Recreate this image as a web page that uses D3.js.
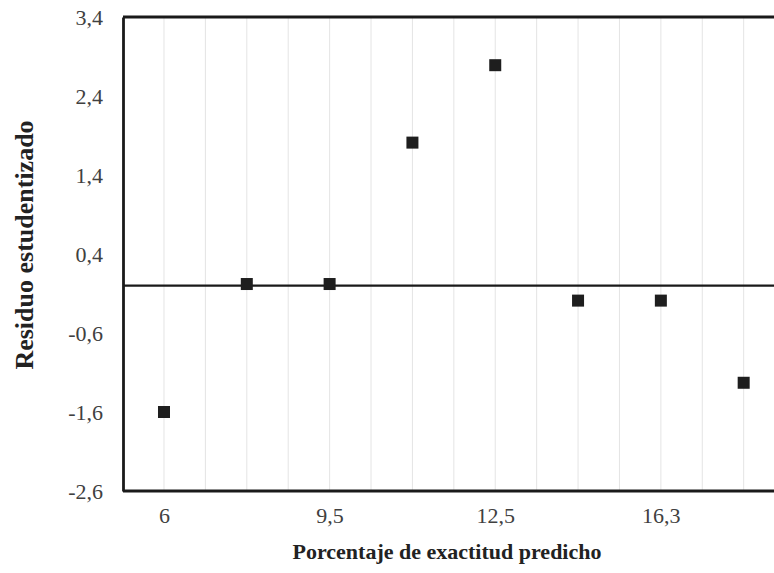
<!DOCTYPE html>
<html>
<head>
<meta charset="utf-8">
<script src="https://cdnjs.cloudflare.com/ajax/libs/d3/7.8.5/d3.min.js"></script>
<style>
  body { margin: 0; background: #fff; }
  .tick text { font-family: "Liberation Serif", "Times New Roman", serif; font-size: 22px; fill: #404040; }
</style>
</head>
<body>
<div id="chart"></div>
<script>
// data
var xIndex = [0, 1, 2, 3, 4, 5, 6, 7];
var xTickLabels = ["6", "", "9,5", "", "12,5", "", "16,3", ""];
var residuals = [-1.60, 0.02, 0.02, 1.81, 2.79, -0.19, -0.19, -1.23];
var yTicks = [-2.6, -1.6, -0.6, 0.4, 1.4, 2.4, 3.4];
var gridSteps = [0, 0.5, 1, 1.5, 2, 2.5, 3, 3.5, 4, 4.5, 5, 5.5, 6, 6.5, 7];

var serif = '"Liberation Serif", "Times New Roman", serif';

var width = 774;
var height = 573;
var margin = {top: 17, right: 3, bottom: 82, left: 123};
var innerW = width - margin.left - margin.right;
var innerH = height - margin.top - margin.bottom;

var svg = d3.select('#chart')
    .append('svg')
    .attr('width', width)
    .attr('height', height);

var g = svg.append('g')
    .attr('transform', 'translate(' + margin.left + ',' + margin.top + ')');

var x = d3.scaleLinear()
    .domain([-0.495, 7.33])
    .range([0, innerW]);

var y = d3.scaleLinear()
    .domain([-2.6, 3.4])
    .range([innerH, 0]);

// vertical gridlines
g.selectAll('.grid')
    .data(gridSteps)
    .enter()
    .append('line')
    .attr('class', 'grid')
    .attr('x1', function(d) { return x(d); })
    .attr('x2', function(d) { return x(d); })
    .attr('y1', 0)
    .attr('y2', innerH)
    .attr('stroke', '#e4e4e4')
    .attr('stroke-width', 1);

// zero line
g.append('line')
    .attr('x1', 0)
    .attr('x2', innerW + margin.right)
    .attr('y1', y(0))
    .attr('y2', y(0))
    .attr('stroke', '#1a1a1a')
    .attr('stroke-width', 2.2);

// top border
g.append('line')
    .attr('x1', 0)
    .attr('x2', innerW + margin.right)
    .attr('y1', 0)
    .attr('y2', 0)
    .attr('stroke', '#1a1a1a')
    .attr('stroke-width', 2.8);

// y axis
var yAxis = d3.axisLeft(y)
    .tickValues(yTicks)
    .tickSize(0)
    .tickPadding(20)
    .tickFormat(function(d) { return d3.format('.1f')(d).replace('.', ',').replace('−', '-'); });

var yG = g.append('g').call(yAxis);
yG.select('.domain').attr('stroke', '#1a1a1a').attr('stroke-width', 2.8);

// x axis
var xAxis = d3.axisBottom(x)
    .tickValues(xIndex)
    .tickSize(0)
    .tickPadding(16)
    .tickFormat(function(d, i) { return xTickLabels[i]; });

var xG = g.append('g')
    .attr('transform', 'translate(0,' + innerH + ')')
    .call(xAxis);
xG.select('.domain').attr('stroke', '#1a1a1a').attr('stroke-width', 2.8)
    .attr('d', 'M0,0H' + (innerW + margin.right));

// points
var sq = 12;
g.selectAll('.pt')
    .data(residuals)
    .enter()
    .append('rect')
    .attr('class', 'pt')
    .attr('x', function(d, i) { return x(xIndex[i]) - sq / 2; })
    .attr('y', function(d) { return y(d) - sq / 2; })
    .attr('width', sq)
    .attr('height', sq)
    .attr('fill', '#1e1e1e');

// axis titles
svg.append('text')
    .attr('x', 447)
    .attr('y', 559)
    .attr('text-anchor', 'middle')
    .attr('font-family', serif)
    .attr('font-size', 22)
    .attr('font-weight', 'bold')
    .attr('fill', '#222')
    .text('Porcentaje de exactitud predicho');

svg.append('text')
    .attr('transform', 'translate(33,245) rotate(-90)')
    .attr('text-anchor', 'middle')
    .attr('font-family', serif)
    .attr('font-size', 26)
    .attr('font-weight', 'bold')
    .attr('fill', '#222')
    .text('Residuo estudentizado');
</script>
</body>
</html>
